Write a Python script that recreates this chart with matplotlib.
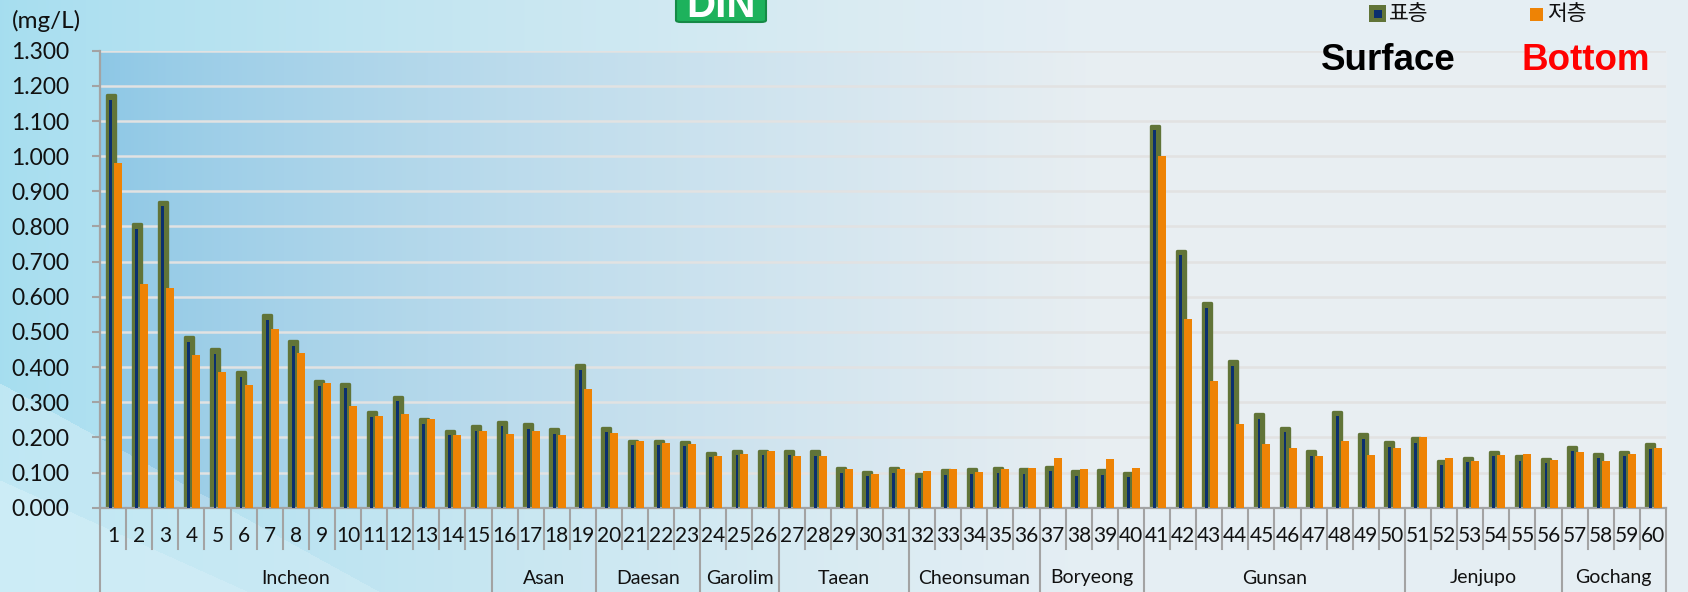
import numpy as np
import matplotlib
import matplotlib.pyplot as plt
from matplotlib.patches import Rectangle, FancyBboxPatch

matplotlib.use('Agg')

# DIN by station, surface (표층) and bottom (저층) layer, mg/L
stations = [str(i) for i in range(1, 61)]
surface = [1.174, 0.807, 0.871, 0.485, 0.451, 0.385, 0.547, 0.474, 0.360, 0.353,
           0.271, 0.316, 0.251, 0.219, 0.232, 0.244, 0.237, 0.224, 0.405, 0.228,
           0.190, 0.190, 0.188, 0.156, 0.162, 0.162, 0.162, 0.161, 0.112, 0.102,
           0.112, 0.097, 0.107, 0.109, 0.112, 0.110, 0.117, 0.104, 0.107, 0.100,
           1.087, 0.731, 0.581, 0.416, 0.266, 0.228, 0.161, 0.273, 0.209, 0.186,
           0.197, 0.134, 0.142, 0.159, 0.147, 0.139, 0.174, 0.154, 0.159, 0.181]
bottom = [0.980, 0.636, 0.625, 0.434, 0.386, 0.349, 0.508, 0.441, 0.355, 0.289,
          0.260, 0.266, 0.252, 0.208, 0.218, 0.211, 0.218, 0.206, 0.338, 0.212,
          0.190, 0.183, 0.181, 0.147, 0.153, 0.160, 0.147, 0.147, 0.109, 0.095,
          0.111, 0.104, 0.109, 0.102, 0.111, 0.114, 0.141, 0.109, 0.139, 0.114,
          1.000, 0.536, 0.361, 0.238, 0.181, 0.169, 0.146, 0.191, 0.149, 0.169,
          0.201, 0.140, 0.134, 0.151, 0.154, 0.136, 0.159, 0.134, 0.154, 0.169]
group_names = ['Incheon', 'Asan', 'Daesan', 'Garolim', 'Taean',
               'Cheonsuman', 'Boryeong', 'Gunsan', 'Jenjupo', 'Gochang']
group_sizes = [15, 4, 4, 3, 5, 5, 4, 10, 6, 4]
y_ticks = np.arange(0, 1.301, 0.1)

W, H = 1688, 592
AX_L, AX_R, AX_T, AX_B = 100, 1666, 50.7, 507.7

GREEN = '#617438'
NAVY = '#0b2f6e'
ORANGE = '#ee8305'
GRAY = '#a3a3a3'
NUM_FONT = ['Lato', 'DejaVu Sans']


def make_background():
    yy, xx = np.mgrid[0:H, 0:W].astype(float)
    left = np.array([0.65, 0.87, 0.94])
    right = np.array([0.90, 0.935, 0.955])
    t = np.clip(xx / 1100.0, 0, 1) ** 0.8
    img = left * (1 - t)[..., None] + right * t[..., None]

    # plot area is a little deeper blue on the left
    inside = (xx >= AX_L) & (xx <= AX_R) & (yy >= AX_T) & (yy <= AX_B)
    pl = np.array([0.55, 0.78, 0.90])
    pr = np.array([0.91, 0.935, 0.95])
    tp = np.clip((xx - AX_L) / 1000.0, 0, 1) ** 0.75
    pimg = pl * (1 - tp)[..., None] + pr * tp[..., None]
    img = np.where(inside[..., None], pimg, img)

    # diagonal light bands at the lower left
    band1 = (yy > 383 + 0.55 * xx).astype(float)
    band2 = (yy > 480 + 0.45 * xx).astype(float)
    fade = np.clip(1 - xx / 900.0, 0, 1)
    white = np.ones(3)
    a = (0.28 * band1 + 0.15 * band2) * fade
    img = img * (1 - a)[..., None] + white * a[..., None]
    return np.clip(img, 0, 1)


def main():
    fig = plt.figure(figsize=(W / 100, H / 100), dpi=100)

    bg = fig.add_axes([0, 0, 1, 1], zorder=-5)
    bg.imshow(make_background(), aspect='auto', extent=[0, 1, 0, 1])
    bg.axis('off')

    ax = fig.add_axes([AX_L / W, 1 - AX_B / H, (AX_R - AX_L) / W, (AX_B - AX_T) / H])
    ax.patch.set_alpha(0)

    n = len(stations)
    x = np.arange(n)
    px = n / (AX_R - AX_L)  # one pixel in data-x units
    s = np.array(surface)
    b = np.array(bottom)

    ax.bar(x - 2.5 * px, s, width=8 * px, color=GREEN, edgecolor=GREEN,
           linewidth=2.4, joinstyle='round', zorder=2)
    ax.bar(x - 2.5 * px, s - 0.013, width=2.8 * px, color=NAVY, linewidth=0, zorder=3)
    ax.bar(x + 5 * px, b, width=8 * px, color=ORANGE, linewidth=0, zorder=4)

    ax.set_xlim(-0.5, n - 0.5)
    ax.set_ylim(0, 1.3)
    ax.set_yticks(y_ticks)
    ax.set_yticklabels([f'{v:.3f}' for v in y_ticks], fontsize=16.5,
                       family=NUM_FONT, color='#111111')
    ax.tick_params(axis='y', direction='out', length=6, width=1.5, color=GRAY, pad=16)
    ax.set_xticks([])
    ax.yaxis.grid(True, color='#e2e2e2', linewidth=1.8)
    ax.set_axisbelow(True)
    for side in ['top', 'right']:
        ax.spines[side].set_visible(False)
    for side in ['left', 'bottom']:
        ax.spines[side].set_color(GRAY)
        ax.spines[side].set_linewidth(1.6)

    # category separators and labels under the axis
    tr = ax.get_xaxis_transform()
    edges = np.cumsum([0] + group_sizes)
    short_y = -(549 - AX_B) / (AX_B - AX_T)
    long_y = -(H - AX_B) / (AX_B - AX_T)
    for k in range(n + 1):
        y_end = long_y if k in edges else short_y
        ax.plot([k - 0.5, k - 0.5], [0, y_end], color=GRAY, lw=1.5,
                transform=tr, clip_on=False, zorder=1)
    lab_y = -(536 - AX_B) / (AX_B - AX_T)
    for i, name in enumerate(stations):
        ax.text(i, lab_y, name, transform=tr, ha='center', va='center',
                fontsize=15, family=NUM_FONT, color='#111111')
    grp_y = -(578 - AX_B) / (AX_B - AX_T)
    for name, a0, a1 in zip(group_names, edges[:-1], edges[1:]):
        ax.text((a0 + a1 - 1) / 2, grp_y, name, transform=tr, ha='center',
                va='center', fontsize=14, family=NUM_FONT, color='#111111')

    # unit label
    fig.text(12 / W, 1 - 21 / H, '(mg/L)', fontsize=17.5, family=NUM_FONT,
             va='center', ha='left', color='#111111')

    # title badge, cut off at the top edge as in the source slide
    badge = FancyBboxPatch((676 / W, 1 - 22 / H), 90 / W, 40 / H,
                           boxstyle='round,pad=0,rounding_size=0.003',
                           transform=fig.transFigure, facecolor='#1db25c',
                           edgecolor='#168a46', linewidth=1.5, clip_on=False)
    fig.patches.append(badge)
    fig.text(721 / W, 1 - 17 / H, 'DIN', fontsize=29, weight='bold', color='white',
             family=['Liberation Sans', 'DejaVu Sans'], ha='center', va='baseline')

    # legend
    fig.patches.append(Rectangle((1369 / W, 1 - 22 / H), 17 / W, 17 / H,
                                 transform=fig.transFigure, facecolor=GREEN,
                                 edgecolor='none'))
    fig.patches.append(Rectangle((1373.5 / W, 1 - 17.5 / H), 8 / W, 8 / H,
                                 transform=fig.transFigure, facecolor=NAVY,
                                 edgecolor='none'))
    fig.text(1389 / W, 1 - 14 / H, '표층', fontsize=15.5, va='center', ha='left',
             family=['Noto Sans CJK KR', 'DejaVu Sans'], color='#111111')
    fig.patches.append(Rectangle((1530 / W, 1 - 20.5 / H), 13 / W, 13 / H,
                                 transform=fig.transFigure, facecolor=ORANGE,
                                 edgecolor='none'))
    fig.text(1547 / W, 1 - 14 / H, '저층', fontsize=15.5, va='center', ha='left',
             family=['Noto Sans CJK KR', 'DejaVu Sans'], color='#111111')

    fig.text(1321 / W, 1 - 61 / H, 'Surface', fontsize=26.5, weight='bold', color='black',
             family=['Liberation Sans', 'DejaVu Sans'], ha='left', va='center')
    fig.text(1521 / W, 1 - 61 / H, 'Bottom', fontsize=26.5, weight='bold', color='#ff0000',
             family=['Liberation Sans', 'DejaVu Sans'], ha='left', va='center')

    fig.savefig('out.png', dpi=100)
    plt.close(fig)


if __name__ == '__main__':
    main()
